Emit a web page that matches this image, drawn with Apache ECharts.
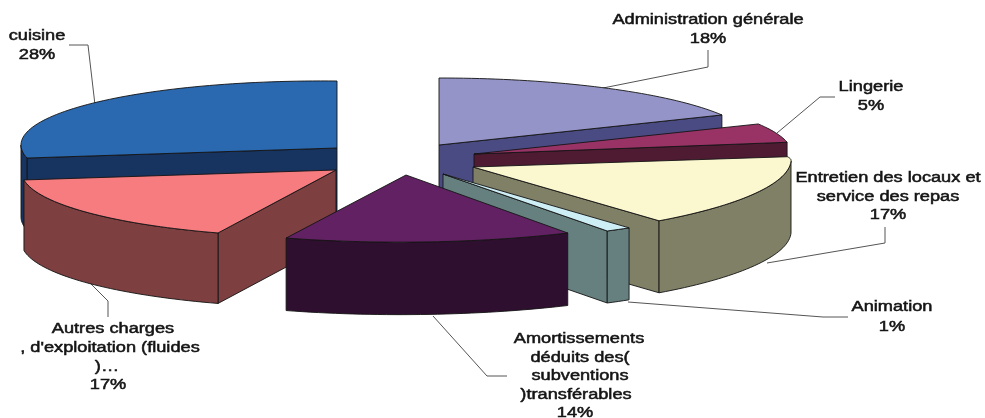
<!DOCTYPE html>
<html>
<head>
<meta charset="utf-8">
<style>html,body{margin:0;padding:0;background:#fff}#c{width:985px;height:418px}</style>
<script src="https://cdn.jsdelivr.net/npm/echarts@6/dist/echarts.min.js"></script>
</head>
<body>
<div id="c"></div>
<script>
// Slices, clockwise from 12 o'clock
const categories = ['Administration générale','Lingerie','Entretien des locaux et service des repas','Animation','Amortissements déduits des subventions transférables','Autres charges d\'exploitation (fluides)…','cuisine'];
// Shares estimated from the drawn angles; the printed whole-number percentages are below
const shares = [17.6, 4.6, 17.49, 1.31, 14.0, 16.9, 28.1];
const percentLabels = ['18%','5%','17%','1%','14%','17%','28%'];
const topColors  = ['#9494C8','#993366','#FBF7CF','#CDEEF5','#622162','#F67C80','#2A68B0'];
const sideColors = ['#4B4B84','#4F1B33','#808066','#668080','#2F0F2F','#7E3F40','#17335F'];
const drawOrder = [0,1,6,2,5,3,4];

// Per-slice 3D projection: apex, x-radius, shear, back/front y-radius, tilt, extrusion
const projection = [
  {cx:439,cy:145,a:316.5,b:0,   rb:67,rf:67,t:0,  h:72},
  {cx:474,cy:154,a:318,  b:0,   rb:67,rf:67,t:0,  h:72},
  {cx:473,cy:167,a:318,  b:7.3, rb:25,rf:72,t:-6, h:72},
  {cx:443,cy:174,a:318,  b:7.3, rb:67,rf:67.5,t:0,h:72},
  {cx:406,cy:175,a:331,  b:18.5,rb:67,rf:67.1,t:2.5,h:72.5},
  {cx:336,cy:170,a:313.7,b:22.1,rb:67,rf:67.2,t:3.1,h:70.5},
  {cx:337,cy:148,a:316,  b:0,   rb:67,rf:67,t:3,  h:72}
];

// Label lines: [text, x, y]; the last line of each slice is its percentage
const labelLines = [
  [['Administration générale',708,20],[percentLabels[0],708,39]],
  [['Lingerie',871,87],[percentLabels[1],871,106]],
  [['Entretien des locaux et',888,178],['service des repas',888,197],[percentLabels[2],888,215]],
  [['Animation',892,307],[percentLabels[3],892,327]],
  [['Amortissements',579,339],['déduits des(',580,358],['subventions',580,376],[')transférables',576,395],[percentLabels[4],575,413]],
  [['Autres charges',113,329],[', d\'exploitation (fluides',110,348],[')…',107,367],[percentLabels[5],108,385]],
  [['cuisine',37,36],[percentLabels[6],37,55]]
];
const leaders = [
  [[708,50],[708,67],[603,88]],
  [[835,97],[820,97],[777,133]],
  [[885,227],[885,243],[767,263]],
  [[848,317],[823,317],[628,302]],
  [[507,376],[487,376],[433,316]],
  [[108,317],[108,301],[90,283]],
  [[69,45],[88,45],[95,105]]
];

const total = shares.reduce((s,v)=>s+v,0);
const bounds = []; let acc = 0;
shares.forEach(v=>{ const s=acc/total*360; acc+=v; bounds.push([s,acc/total*360]); });

function pt(p,deg,dz){
  const r=deg*Math.PI/180,u=Math.sin(r),v=Math.cos(r);
  return [p.cx+p.a*u+p.b*v, p.cy-(v>0?p.rb:p.rf)*v+p.t*u+(dz||0)];
}
function arc(p,d0,d1,dz){
  const out=[],n=Math.max(2,Math.ceil(Math.abs(d1-d0)/1.5));
  for(let i=0;i<=n;i++) out.push(pt(p,d0+(d1-d0)*i/n,dz));
  return out;
}
const poly=(points,fill)=>({type:'polygon',shape:{points},style:{fill,stroke:'#141414',lineWidth:0.9,lineJoin:'round'},silent:true});

function renderItem(params,api){
  const i=drawOrder[params.dataIndex];
  const p=projection[i],[s,e]=bounds[i],side=sideColors[i],kids=[];
  const face=(deg)=>{const E=pt(p,deg,0);return poly([[p.cx,p.cy],E,[E[0],E[1]+p.h],[p.cx,p.cy+p.h]],side);};
  if(Math.sin(s*Math.PI/180)<-1e-6) kids.push(face(s));
  if(Math.sin(e*Math.PI/180)> 1e-6) kids.push(face(e));
  const r0=Math.max(s,90),r1=Math.min(e,270);
  if(r1>r0) kids.push(poly(arc(p,r0,r1,0).concat(arc(p,r1,r0,p.h)),side));
  kids.push(poly([[p.cx,p.cy]].concat(arc(p,s,e,0)),topColors[i]));
  return {type:'group',children:kids};
}

const graphics=[];
leaders.forEach(l=>graphics.push({type:'polyline',shape:{points:l},style:{fill:null,stroke:'#555',lineWidth:1},silent:true}));
labelLines.forEach(lines=>lines.forEach(([text,x,y])=>graphics.push({
  type:'text',x,y,scaleX:1.3,scaleY:1,silent:true,
  style:{text,fontFamily:'"Liberation Sans",Arial,sans-serif',fontSize:14,fill:'#141414',stroke:'#141414',lineWidth:0.5,align:'center',verticalAlign:'middle'}
})));

const chart=echarts.init(document.getElementById('c'),null,{renderer:'canvas'});
chart.setOption({
  animation:false,
  backgroundColor:'#fff',
  series:[{type:'custom',coordinateSystem:'none',silent:true,renderItem,
    data:drawOrder.map(i=>({name:categories[i],value:shares[i]}))}],
  graphic:{elements:graphics}
});
</script>
</body>
</html>
